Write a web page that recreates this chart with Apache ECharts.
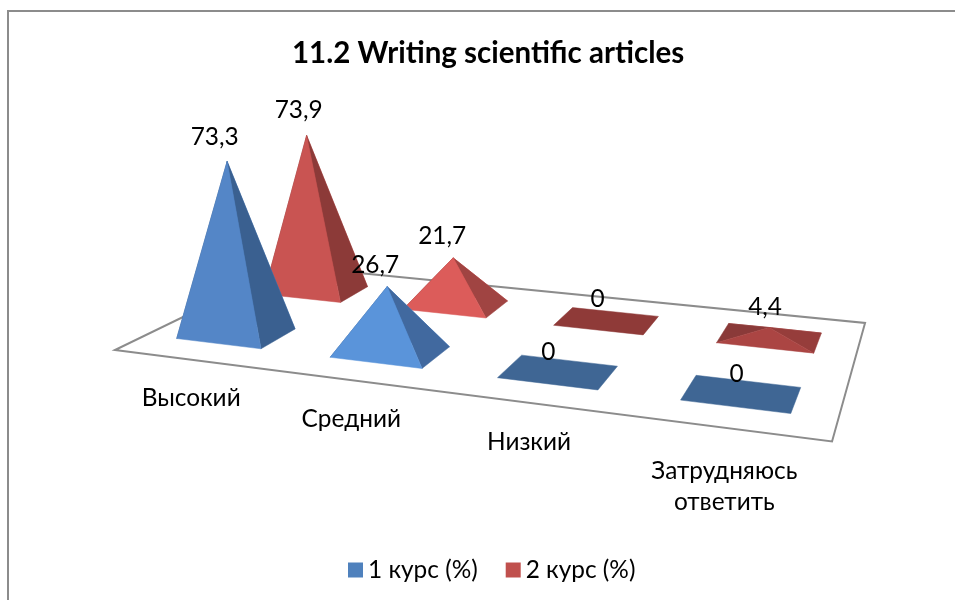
<!DOCTYPE html>
<html>
<head>
<meta charset="utf-8">
<title>11.2 Writing scientific articles</title>
<script src="https://cdn.jsdelivr.net/npm/echarts@6/dist/echarts.min.js"></script>
<style>
	html, body { margin: 0; padding: 0; background: #fff; }
	#chart { width: 955px; height: 600px; }
</style>
</head>
<body>
<div id="chart"></div>
<script>
var categories = ['Высокий', 'Средний', 'Низкий', 'Затрудняюсь\nответить'];
var seriesNames = ['1 курс (%)', '2 курс (%)'];
var course1 = [73.3, 26.7, 0, 0];
var course2 = [73.9, 21.7, 0, 4.4];

var fontName = 'Lato, "Open Sans", sans-serif';

// face colours differ per pyramid, the original lights them by slope
var frontColors = [['#5486c7', '#5a94da', '#3f6694', '#3f6694'], ['#c95452', '#dc5c5a', '#8f3a38', '#ab4543']];
var sideColors = [['#3a6090', '#41699f', '#3f6694', '#3f6694'], ['#8c3a38', '#a04442', '#8f3a38', '#963d3b']];
var leftColors = ['#3a6090', '#8a3a39'];
var legendColors = ['#4f81bd', '#c0504d'];

// label shifts in pixels, from the apex and from the front edge
var labelShift = [[-12.5, -12, -10, -5], [-8, -11, -9, -4]];
var labelLift = [[24.5, 21.5, 19.5, 19.5], [25.5, 21.5, 21.5, 20.5]];
var categoryShift = [2, 0, 0, 0];

var barWidth = 0.56;
var barDepth = 0.4;
var heightScale = 2.45;
var lean = 0.13;
var planShift = -0.003;

// floor plane, unit square (u right, v back) onto the screen quad
var H = {a: 575.8, b: 245.7, c: 115, d: 16.55, e: -16.9, f: 350, g: -0.16976, h: 0.25234};

function project(u, v, val) {
	var w = H.g * u + H.h * v + 1;
	return [
		(H.a * u + H.b * v + H.c) / w - lean * (val || 0),
		(H.d * u + H.e * v + H.f) / w - heightScale * (val || 0) / w
	];
}

function planPos(api, params, cat, ser) {
	var cs = params.coordSys;
	var p = api.coord([cat, ser]);
	return [(p[0] - cs.x) / cs.width + planShift, 1 - (p[1] - cs.y) / cs.height];
}

function face(points, color) {
	return {type: 'polygon', shape: {points: points}, style: {fill: color, stroke: color, lineWidth: 0.5}};
}

function renderPyramid(params, api) {
	var cat = api.value(0), ser = api.value(1), val = api.value(2);
	var c = planPos(api, params, cat, ser);
	var size = api.size([1, 1]);
	var du = size[0] / params.coordSys.width * barWidth / 2;
	var dv = size[1] / params.coordSys.height * barDepth / 2;
	var fl = project(c[0] - du, c[1] - dv);
	var fr = project(c[0] + du, c[1] - dv);
	var br = project(c[0] + du, c[1] + dv);
	var bl = project(c[0] - du, c[1] + dv);
	var children = [];
	if (val > 0) {
		var top = project(c[0], c[1], val);
		children.push(face([bl, br, top], frontColors[ser][cat]));
		children.push(face([fl, bl, top], leftColors[ser]));
		children.push(face([fr, br, top], sideColors[ser][cat]));
		children.push(face([fl, fr, top], frontColors[ser][cat]));
	} else {
		children.push(face([fl, fr, br, bl], frontColors[ser][cat]));
	}
	return {type: 'group', children: children};
}

function renderFloor(params, api) {
	return {
		type: 'polygon',
		shape: {points: [project(0, 0), project(1, 0), project(1, 1), project(0, 1)]},
		style: {fill: '#fff', stroke: '#8c8c8c', lineWidth: 2}
	};
}

function renderValueLabel(params, api) {
	var cat = api.value(0), ser = api.value(1), val = api.value(2);
	var c = planPos(api, params, cat, ser);
	var top = project(c[0], c[1], val);
	return {
		type: 'text',
		style: {
			x: top[0] + labelShift[ser][cat],
			y: top[1] - labelLift[ser][cat],
			text: String(val).replace('.', ','),
			align: 'center',
			verticalAlign: 'middle',
			fill: '#000',
			font: '24.4px ' + fontName
		}
	};
}

function renderCategoryLabel(params, api) {
	var cat = api.value(0);
	var c = planPos(api, params, cat, 0);
	var edge = project(c[0], 0);
	var lines = categories[cat].split('\n').length;
	return {
		type: 'text',
		style: {
			x: edge[0] + categoryShift[cat],
			y: edge[1] + 39 + (lines - 1) * 20,
			text: categories[cat],
			align: 'center',
			verticalAlign: 'middle',
			lineHeight: 31,
			fill: '#000',
			font: '24.4px ' + fontName
		}
	};
}

function toRows(values, ser) {
	return values.map(function (v, i) { return [i, ser, v]; });
}

var allRows = toRows(course1, 0).concat(toRows(course2, 1));

var chart = echarts.init(document.getElementById('chart'));

chart.setOption({
	animation: false,
	backgroundColor: '#fff',
	title: {
		text: '11.2 Writing scientific articles',
		left: 287,
		top: 33,
		textStyle: {fontFamily: fontName, fontSize: 29.5, fontWeight: 'bold', color: '#000'}
	},
	legend: {
		data: seriesNames,
		left: 343,
		top: 553,
		icon: 'rect',
		itemWidth: 15,
		itemHeight: 15,
		itemGap: 28,
		textStyle: {fontFamily: fontName, fontSize: 24.4, color: '#000'}
	},
	// plan view of the floor, hidden; the custom series tilt it with project()
	grid: {left: 0, top: 0, width: 400, height: 400, show: false},
	xAxis: {type: 'category', data: categories, show: false},
	yAxis: {type: 'category', data: seriesNames, show: false},
	graphic: [{
		type: 'polyline',
		shape: {points: [[8, 600], [8, 11], [955, 11]]},
		style: {stroke: '#8c8c8c', lineWidth: 2, fill: null},
		silent: true
	}],
	series: [{
		name: 'floor',
		type: 'custom',
		z: 1,
		silent: true,
		renderItem: renderFloor,
		data: [[0, 0]]
	}, {
		name: seriesNames[1],
		type: 'custom',
		z: 2,
		itemStyle: {color: legendColors[1]},
		renderItem: renderPyramid,
		encode: {x: 0, y: 1},
		data: toRows(course2, 1)
	}, {
		name: seriesNames[0],
		type: 'custom',
		z: 3,
		itemStyle: {color: legendColors[0]},
		renderItem: renderPyramid,
		encode: {x: 0, y: 1},
		data: toRows(course1, 0)
	}, {
		name: 'values',
		type: 'custom',
		z: 4,
		silent: true,
		renderItem: renderValueLabel,
		encode: {x: 0, y: 1},
		data: allRows
	}, {
		name: 'categories',
		type: 'custom',
		z: 4,
		silent: true,
		renderItem: renderCategoryLabel,
		encode: {x: 0, y: 1},
		data: toRows(course1, 0)
	}]
});
</script>
</body>
</html>
